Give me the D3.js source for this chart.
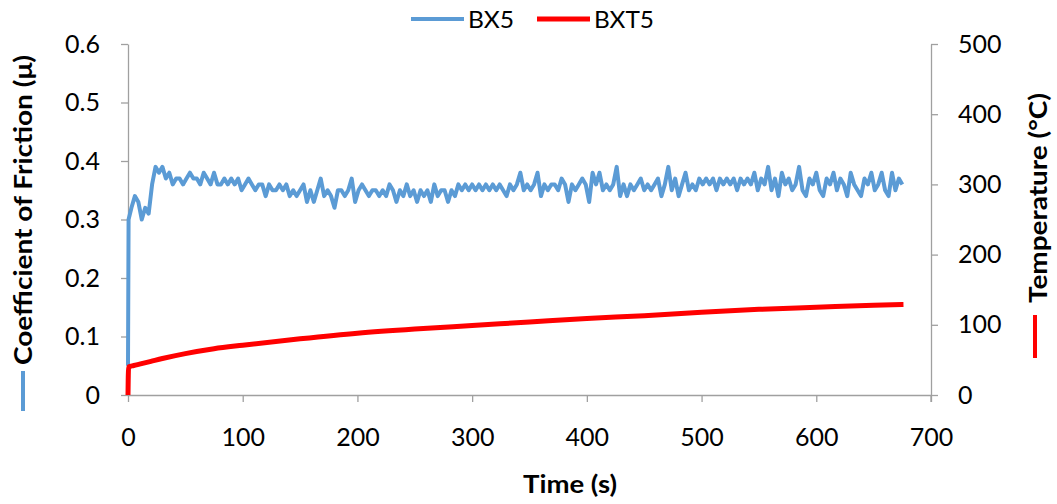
<!DOCTYPE html>
<html><head><meta charset="utf-8">
<script src="https://cdn.jsdelivr.net/npm/d3@7"></script>
<style>body{margin:0;background:#fff;} svg{display:block;font-family:Lato,"Open Sans",sans-serif;}</style>
</head><body>
<svg id="c" width="1057" height="504"></svg>
<script>
// ---- data ----
const xTicks = [0,100,200,300,400,500,600,700];
const yLeftTicks = [0,0.1,0.2,0.3,0.4,0.5,0.6];
const yRightTicks = [0,100,200,300,400,500];
const seriesNames = ["BX5","BXT5"];
// BX5 coefficient of friction: head points then a 3 s grid from t = 3
const bx5Head = [[0,0.05],[0.5,0.30]];
const bx5Step = 3;
const bx5Values = [
0.32,0.34,0.33,0.30,0.32,0.31,0.36,0.39,0.38,0.39,0.37,0.38,0.36,0.37,0.37,0.36,0.37,0.38,0.37,0.37,
0.36,0.38,0.37,0.36,0.38,0.36,0.36,0.37,0.36,0.37,0.36,0.37,0.35,0.36,0.37,0.36,0.35,0.36,0.36,0.34,
0.36,0.35,0.35,0.36,0.35,0.36,0.34,0.35,0.34,0.35,0.36,0.33,0.35,0.33,0.35,0.37,0.34,0.35,0.34,0.32,
0.35,0.35,0.34,0.35,0.37,0.33,0.35,0.36,0.35,0.34,0.35,0.35,0.34,0.35,0.34,0.36,0.35,0.33,0.35,0.34,
0.36,0.34,0.35,0.33,0.35,0.34,0.35,0.33,0.36,0.34,0.35,0.35,0.33,0.35,0.34,0.36,0.35,0.36,0.35,0.36,
0.35,0.36,0.35,0.36,0.35,0.36,0.35,0.36,0.35,0.34,0.36,0.35,0.36,0.38,0.35,0.36,0.35,0.36,0.38,0.34,
0.36,0.35,0.36,0.36,0.35,0.37,0.36,0.33,0.36,0.35,0.36,0.37,0.36,0.33,0.38,0.36,0.38,0.35,0.36,0.35,
0.36,0.39,0.34,0.36,0.34,0.36,0.35,0.36,0.37,0.35,0.36,0.35,0.36,0.37,0.34,0.36,0.39,0.35,0.37,0.34,
0.36,0.38,0.35,0.36,0.35,0.37,0.36,0.37,0.36,0.37,0.35,0.37,0.36,0.37,0.36,0.37,0.35,0.37,0.36,0.37,
0.36,0.38,0.35,0.37,0.36,0.39,0.35,0.37,0.34,0.38,0.36,0.37,0.35,0.36,0.39,0.35,0.34,0.37,0.36,0.38,
0.35,0.34,0.37,0.36,0.38,0.35,0.37,0.36,0.34,0.38,0.36,0.35,0.34,0.37,0.36,0.38,0.35,0.36,0.38,0.35,
0.34,0.38,0.35,0.37,0.36
];
// BXT5 temperature (°C)
const bxt5Time = [0,0.5,5,10,20,30,50,75,100,150,200,250,300,350,400,450,500,550,600,650,676];
const bxt5Temp = [0,40,42,44,48,52,59,66,71,80,88,94,99,104,109,113,118,122,125,128,129];

// ---- chart ----
const svg = d3.select("#c");
const x = d3.scaleLinear().domain([0,700]).range([128, 931]);
const yL = d3.scaleLinear().domain([0,0.6]).range([395, 44]);
const yR = d3.scaleLinear().domain([0,500]).range([395, 44]);
const axisColor = "#a0a0a0";
const blue = "#5b9bd5", red = "#ff0000";
const fontFam = "Lato, 'Open Sans', sans-serif";

function styleAxis(g){
  g.select(".domain").attr("stroke", axisColor).attr("stroke-width",1.3);
  g.selectAll(".tick line").attr("stroke", axisColor).attr("stroke-width",1.3);
  g.selectAll(".tick text").attr("fill","#000").attr("font-size",25).attr("font-family",fontFam);
}
const gx = svg.append("g").attr("transform","translate(0,395)")
  .call(d3.axisBottom(x).tickValues(xTicks).tickSize(7).tickPadding(26).tickSizeOuter(0).tickFormat(d3.format("d")));
styleAxis(gx);
const gl = svg.append("g").attr("transform","translate(128,0)")
  .call(d3.axisLeft(yL).tickValues(yLeftTicks).tickSize(7).tickPadding(21).tickSizeOuter(0).tickFormat(d=>d===0?"0":d3.format(".1f")(d)));
styleAxis(gl);
const gr = svg.append("g").attr("transform","translate(931,0)")
  .call(d3.axisRight(yR).tickValues(yRightTicks).tickSize(7).tickPadding(20).tickSizeOuter(0).tickFormat(d3.format("d")));
styleAxis(gr);
gr.append("line").attr("x1",0).attr("x2",0).attr("y1",395).attr("y2",402).attr("stroke",axisColor).attr("stroke-width",1.3);

// series
const bx5 = bx5Head.concat(bx5Values.map((v,i)=>[bx5Step*(i+1), v]));
const lineL = d3.line().x(d=>x(d[0])).y(d=>yL(d[1]));
svg.append("path").datum(bx5).attr("d",lineL).attr("fill","none")
  .attr("stroke",blue).attr("stroke-width",4).attr("stroke-linejoin","round");

const bxt5 = bxt5Time.map((t,i)=>[t,bxt5Temp[i]]);
const lineR = d3.line().x(d=>x(d[0])).y(d=>yR(d[1])).curve(d3.curveMonotoneX);
svg.append("path").datum(bxt5).attr("d",lineR).attr("fill","none")
  .attr("stroke",red).attr("stroke-width",5).attr("stroke-linejoin","round");

// axis titles
svg.append("text").attr("x",570).attr("y",493).attr("text-anchor","middle")
  .attr("font-size",25).attr("font-weight","bold").attr("textLength",94).attr("lengthAdjust","spacingAndGlyphs").text("Time (s)");
svg.append("text").attr("transform","translate(32,210) rotate(-90)").attr("text-anchor","middle")
  .attr("font-size",25).attr("font-weight","bold").attr("textLength",310).attr("lengthAdjust","spacingAndGlyphs").text("Coefficient of Friction (μ)");
svg.append("line").attr("x1",23).attr("x2",23).attr("y1",371).attr("y2",411).attr("stroke",blue).attr("stroke-width",4);
svg.append("text").attr("transform","translate(1047,198) rotate(-90)").attr("text-anchor","middle")
  .attr("font-size",25).attr("font-weight","bold").attr("textLength",210).attr("lengthAdjust","spacingAndGlyphs").text("Temperature (°C)");
svg.append("line").attr("x1",1035).attr("x2",1035).attr("y1",315).attr("y2",358).attr("stroke",red).attr("stroke-width",4);

// legend
const leg = [{name:seriesNames[0], c:blue, w:4, x0:411, tl:46}, {name:seriesNames[1], c:red, w:5, x0:537, tl:60}];
leg.forEach(d=>{
  svg.append("line").attr("x1",d.x0).attr("x2",d.x0+53).attr("y1",19).attr("y2",19).attr("stroke",d.c).attr("stroke-width",d.w);
  svg.append("text").attr("x",d.x0+57).attr("y",28).attr("font-size",24)
    .attr("textLength",d.tl).attr("lengthAdjust","spacingAndGlyphs").text(d.name);
});
</script>
</body></html>
